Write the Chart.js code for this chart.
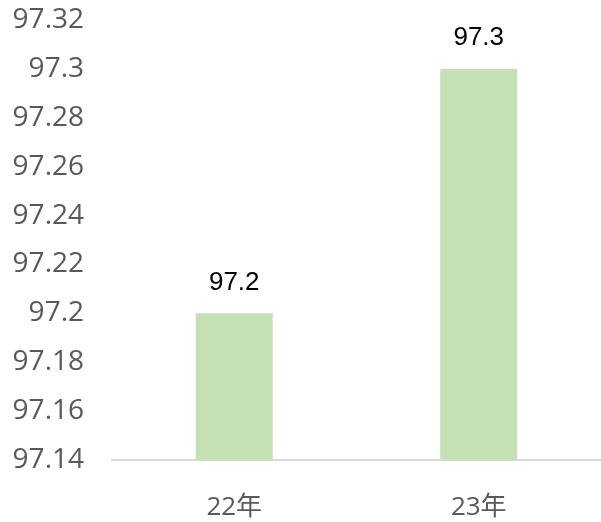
<!DOCTYPE html>
<html>
<head>
<meta charset="utf-8">
<script src="https://cdn.jsdelivr.net/npm/chart.js@4"></script>
<style>
  html, body { margin: 0; padding: 0; background: #fff; }
  #wrap { width: 601px; height: 522px; }
</style>
</head>
<body>
<div id="wrap"><canvas id="chart"></canvas></div>
<script>
const categories = ['22年', '23年'];
const values = [97.2, 97.3];
const yMin = 97.14;
const yMax = 97.32;
const yStep = 0.02;

const fmt = v => parseFloat(Number(v).toFixed(2)).toString();

const barLabels = {
    id: 'barLabels',
    afterDatasetsDraw(chart) {
        const ctx = chart.ctx;
        const meta = chart.getDatasetMeta(0);
        ctx.save();
        ctx.font = '26px "Liberation Sans", Arial, sans-serif';
        ctx.fillStyle = '#000';
        ctx.textAlign = 'center';
        ctx.textBaseline = 'bottom';
        meta.data.forEach((bar, i) => {
            ctx.fillText(fmt(values[i]), bar.x, bar.y - 18);
        });
        ctx.restore();
    }
};

const ctx = document.getElementById('chart').getContext('2d');
const chart = new Chart(ctx, {
    type: 'bar',
    data: {
        labels: categories,
        datasets: [{
            data: values,
            backgroundColor: '#c5e0b4',
            borderWidth: 0,
            categoryPercentage: 1,
            barPercentage: 0.315
        }]
    },
    options: {
        responsive: true,
        maintainAspectRatio: false,
        animation: false,
        layout: { padding: { top: 20, right: 0, bottom: 0, left: 0 } },
        plugins: { legend: { display: false }, tooltip: { enabled: false } },
        scales: {
            x: {
                grid: { display: false, drawTicks: false },
                border: { display: true, color: '#d9d9d9', width: 2 },
                ticks: {
                    color: '#595959',
                    padding: 32,
                    font: { size: 26, family: '"Open Sans", "Noto Sans CJK SC", sans-serif' }
                },
                afterFit(scale) { scale.height = 62; }
            },
            y: {
                min: yMin,
                max: yMax,
                grid: { display: false, drawTicks: true, tickLength: 28 },
                border: { display: false },
                ticks: {
                    stepSize: yStep,
                    color: '#595959',
                    padding: 0,
                    font: { size: 28, family: '"Open Sans", "Noto Sans CJK SC", sans-serif' },
                    callback: v => fmt(v)
                },
                afterFit(scale) { scale.width = 112; }
            }
        }
    },
    plugins: [barLabels]
});
</script>
</body>
</html>
